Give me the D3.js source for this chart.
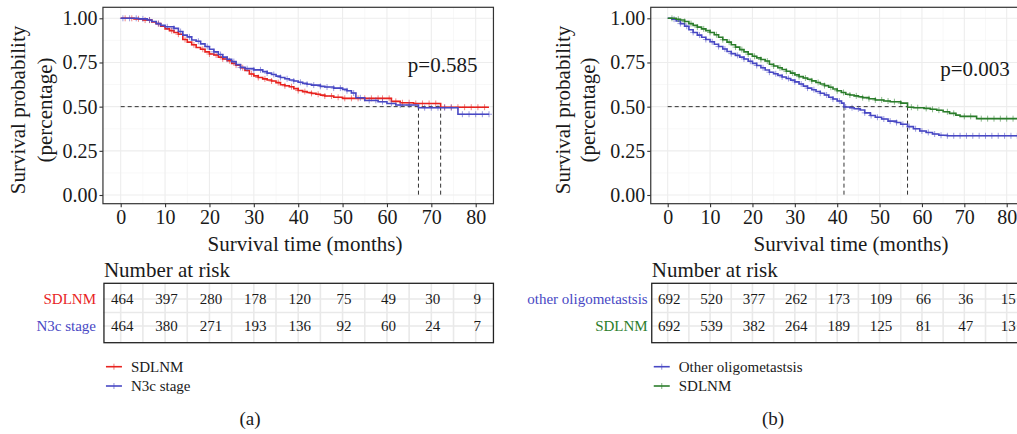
<!DOCTYPE html>
<html>
<head>
<meta charset="utf-8">
<script src="https://cdn.jsdelivr.net/npm/d3@7"></script>
<style>
body { margin: 0; background: #fff; }
text { font-family: "Liberation Serif", "Times New Roman", serif; fill: #1a1a1a; }
</style>
</head>
<body>
<svg id="chart" width="1017" height="434"></svg>
<script>
// ---- data ----
var monthTicks = [0, 10, 20, 30, 40, 50, 60, 70, 80];
var survTicks = [0, 0.25, 0.5, 0.75, 1];

// panel (a)
var aRedTime = [0,3,5,7,8,9,10,11,12,13,14,15,16,17,18,19,20,21,22,23,24,25,26,27,28,29,30,31,32,33,34,35,36,37,38,39,40,41,42,43,44,45,46,48,50,61,63,66,72.1];
var aRedSurv = [1,0.997,0.99,0.98,0.97,0.955,0.94,0.93,0.92,0.91,0.88,0.865,0.85,0.835,0.825,0.81,0.798,0.792,0.78,0.77,0.76,0.745,0.735,0.72,0.705,0.685,0.674,0.665,0.657,0.651,0.645,0.636,0.624,0.618,0.613,0.602,0.591,0.585,0.58,0.575,0.57,0.565,0.56,0.553,0.547,0.53,0.522,0.518,0.497];
var aRedCensor = [1,2.5,4,5.5,6.5,8.5,11.5,13,14.5,16.5,18.5,20,21.5,23,24.5,26,27.5,29.5,31,32.5,34,35.5,37,38.5,40,41.5,43,44.5,46,47.5,49,50.5,52,53.5,55,56.5,58,59,60.5,62,63.5,65,66.5,68,69.5,71,73,74.5,76,77.5,79,80.5,82];
var aBlueTime = [0,4,6,7,8,9,10,12,13,14,15,16,17,18,19,20,21,22,23,24,25,26,27,28,30,32,33,34,35,36,37,38,39,40,41,42,43,45,46,48,50,51,52,53,55,58,60,62,67.1,76];
var aBlueSurv = [1,0.997,0.99,0.982,0.97,0.96,0.952,0.943,0.925,0.905,0.895,0.877,0.87,0.855,0.84,0.825,0.81,0.795,0.78,0.768,0.755,0.738,0.722,0.715,0.708,0.698,0.69,0.682,0.673,0.665,0.658,0.651,0.645,0.638,0.632,0.627,0.622,0.615,0.611,0.605,0.598,0.59,0.577,0.55,0.535,0.528,0.518,0.509,0.494,0.457];
var aBlueCensor = [0.5,2,3.5,5,6.5,8.5,10.5,12,13.5,15.5,17.5,19.5,21,22.5,24,25.5,27,28.5,30,31.5,33,34.5,36,37.5,39,40.5,42,43.5,45,46.5,48,49.5,51,52.5,54,56,57.5,59,61,63,65,68.5,70,71.5,73,74.5,77,78.5,80,81.5,83];
var aMedian = [67.1, 72.1];
var aRiskRed = [464, 397, 280, 178, 120, 75, 49, 30, 9];
var aRiskBlue = [464, 380, 271, 193, 136, 92, 60, 24, 7];

// panel (b)
var bOtherTime = [0,1,2,3,4,5,6,7,8,9,10,11,12,13,14,15,16,17,18,19,20,21,22,23,24,25,26,27,28,29,30,31,32,33,34,35,36,37,38,39,40,41,41.6,43,44,45.4,46.5,47.8,49,50.5,52,54,55,56.6,58,59.5,61,62.5,64,66];
var bOtherSurv = [1,0.995,0.985,0.97,0.955,0.935,0.92,0.905,0.893,0.88,0.867,0.853,0.84,0.826,0.812,0.8,0.79,0.78,0.77,0.757,0.745,0.733,0.72,0.707,0.695,0.686,0.677,0.668,0.659,0.65,0.64,0.628,0.616,0.605,0.596,0.586,0.576,0.566,0.553,0.543,0.532,0.52,0.498,0.494,0.488,0.481,0.465,0.45,0.44,0.43,0.418,0.41,0.4,0.387,0.375,0.362,0.354,0.345,0.338,0.335];
var bOtherCensor = [1.5,3,4.5,6,7.5,9,10.5,12,13.5,15,16.5,18,19.5,21,22.5,24,25.5,27,28.5,30,31.5,33,34.5,36,37.5,39,40.5,42,43.5,45,46.5,48,49.5,51,52.5,54,55.5,57,58.5,60,61.5,63,64.5,66,67.5,69,70.5,72,73.5,75,76.5,78,79.5,81,82.5];
var bSdlnmTime = [0,2,3,4,5,6,7,8,9,10,11,12,13,14,15,16,17,18,19,20,21,22,23,24,25,26,27,28,29,30,31,32,33,34,35,36,37,38,39,40,41,42,43,44,45,46,47.5,49,51,52.5,55,56.6,58,60.5,62,63.5,65,66.5,68,69,72.9];
var bSdlnmSurv = [1,0.995,0.99,0.982,0.97,0.96,0.95,0.94,0.93,0.92,0.907,0.893,0.879,0.865,0.85,0.837,0.823,0.81,0.797,0.785,0.776,0.767,0.758,0.74,0.73,0.72,0.71,0.7,0.69,0.68,0.67,0.662,0.655,0.646,0.637,0.628,0.619,0.61,0.6,0.59,0.58,0.57,0.566,0.561,0.556,0.551,0.545,0.538,0.532,0.528,0.52,0.497,0.494,0.49,0.485,0.48,0.471,0.462,0.452,0.445,0.432];
var bSdlnmCensor = [1,2.5,4,5.5,7,8.5,10,11.5,13,14.5,16,17.5,19,20.5,22,23.5,25,26.5,28,29.5,31,32.5,34,35.5,37,38.5,40,41.5,43,44.5,46,47.5,49,50.5,52,53.5,55,57.5,59,61,62.5,64,66,67.5,70,71.5,74,75.5,77,78.5,80,81.5,83];
var bMedian = [41.6, 56.6];
var bRiskOther = [692, 520, 377, 262, 173, 109, 66, 36, 15];
var bRiskSdlnm = [692, 539, 382, 264, 189, 125, 81, 47, 13];

var RED = '#e8231f', BLUE = '#4848c4', GREEN = '#2b7d2b';

var svg = d3.select('#chart');

function drawPanel(p) {
    var x = d3.scaleLinear().domain([0, 80]).range(p.xRange);
    var y = d3.scaleLinear().domain([0, 1]).range([195, 18.3]);
    var left = x(-4), right = x(84);
    var top = 7.3, bottom = 203.7;

    var g = svg.append('g');

    // panel grid
    var minorX = [5, 15, 25, 35, 45, 55, 65, 75];
    var minorY = [0.125, 0.375, 0.625, 0.875];
    g.selectAll('.mgx').data(minorX).enter().append('line')
        .attr('x1', d => x(d)).attr('x2', d => x(d))
        .attr('y1', top).attr('y2', bottom)
        .attr('stroke', '#f6f6f6').attr('stroke-width', 0.8);
    g.selectAll('.mgy').data(minorY).enter().append('line')
        .attr('x1', left).attr('x2', right)
        .attr('y1', d => y(d)).attr('y2', d => y(d))
        .attr('stroke', '#f6f6f6').attr('stroke-width', 0.8);
    g.selectAll('.gx').data(monthTicks).enter().append('line')
        .attr('x1', d => x(d)).attr('x2', d => x(d))
        .attr('y1', top).attr('y2', bottom)
        .attr('stroke', '#ededed').attr('stroke-width', 1.1);
    g.selectAll('.gy').data(survTicks).enter().append('line')
        .attr('x1', left).attr('x2', right)
        .attr('y1', d => y(d)).attr('y2', d => y(d))
        .attr('stroke', '#ededed').attr('stroke-width', 1.1);

    // median lines
    var dash = '4,3';
    g.append('line')
        .attr('x1', x(0)).attr('x2', x(d3.max(p.median)))
        .attr('y1', y(0.5)).attr('y2', y(0.5))
        .attr('stroke', '#333').attr('stroke-width', 1).attr('stroke-dasharray', dash);
    g.selectAll('.med').data(p.median).enter().append('line')
        .attr('x1', d => x(d)).attr('x2', d => x(d))
        .attr('y1', y(0.5)).attr('y2', y(0))
        .attr('stroke', '#333').attr('stroke-width', 1).attr('stroke-dasharray', dash);

    // curves
    var line = d3.line().curve(d3.curveStepAfter).x(d => x(d[0])).y(d => y(d[1]));
    p.series.forEach(s => {
        var pts = s.time.map((t, i) => [t, s.surv[i]]);
        pts.push([s.end, s.surv[s.surv.length - 1]]);
        g.append('path')
            .attr('d', line(pts))
            .attr('fill', 'none')
            .attr('stroke', s.color)
            .attr('stroke-width', 1.6);
        var bis = d3.bisector(d => d).right;
        s.censor.forEach(c => {
            var v = s.surv[Math.max(0, bis(s.time, c) - 1)];
            g.append('path')
                .attr('d', 'M' + (x(c) - 3) + ',' + y(v) + 'h6M' + x(c) + ',' + (y(v) - 3) + 'v6')
                .attr('stroke', s.color)
                .attr('stroke-opacity', 0.55)
                .attr('stroke-width', 1);
        });
    });

    // border
    g.append('rect')
        .attr('x', left).attr('y', top)
        .attr('width', right - left).attr('height', bottom - top)
        .attr('fill', 'none').attr('stroke', '#333').attr('stroke-width', 1.2);

    // axes
    var xAxis = d3.axisBottom(x).tickValues(monthTicks).tickSize(3.5).tickPadding(3);
    var yAxis = d3.axisLeft(y).tickValues(survTicks).tickFormat(d3.format('.2f')).tickSize(3.5).tickPadding(2);
    var gx = g.append('g').attr('transform', 'translate(0,' + bottom + ')').call(xAxis);
    var gy = g.append('g').attr('transform', 'translate(' + left + ',0)').call(yAxis);
    [gx, gy].forEach(a => {
        a.select('.domain').remove();
        a.selectAll('line').attr('stroke', '#333').attr('stroke-width', 1.1);
        a.selectAll('text').attr('font-size', 20).attr('fill', '#1a1a1a')
            .style('font-family', '"Liberation Serif", serif');
    });

    // axis titles
    g.append('text')
        .attr('x', p.xTitleX).attr('y', 251)
        .attr('text-anchor', 'middle').attr('font-size', 21)
        .text('Survival time (months)');
    g.append('text')
        .attr('transform', 'translate(' + p.yTitleX[0] + ',110) rotate(-90)')
        .attr('text-anchor', 'middle').attr('font-size', 21)
        .text('Survival probability');
    g.append('text')
        .attr('transform', 'translate(' + p.yTitleX[1] + ',110) rotate(-90)')
        .attr('text-anchor', 'middle').attr('font-size', 21)
        .text('(percentage)');

    // p value
    g.append('text')
        .attr('x', x(p.pPos[0])).attr('y', y(p.pPos[1]))
        .attr('font-size', 21)
        .text(p.pText);

    // risk table
    var tTop = 283.3, tBottom = 342.7;
    g.append('text')
        .attr('x', left + 1).attr('y', 277.3)
        .attr('font-size', 21)
        .text('Number at risk');
    var allX = monthTicks.concat(minorX);
    g.selectAll('.tgx').data(allX).enter().append('line')
        .attr('x1', d => x(d)).attr('x2', d => x(d))
        .attr('y1', tTop).attr('y2', tBottom)
        .attr('stroke', '#e9e9e9').attr('stroke-width', 1.6);
    g.selectAll('.tgy').data([299, 312.5, 326]).enter().append('line')
        .attr('x1', left).attr('x2', right)
        .attr('y1', d => d).attr('y2', d => d)
        .attr('stroke', '#e9e9e9').attr('stroke-width', 1.6);
    p.series.forEach((s, i) => {
        var rowY = [304, 331][i];
        g.append('text')
            .attr('x', p.rowLabelX).attr('y', rowY)
            .attr('text-anchor', 'end').attr('font-size', 15)
            .style('fill', s.color)
            .text(s.rowLabel);
        g.selectAll('.risk' + i).data(s.risk).enter().append('text')
            .attr('x', (d, j) => x(monthTicks[j]) + 1.5)
            .attr('y', rowY)
            .attr('text-anchor', 'middle').attr('font-size', 15)
            .text(d => d);
    });
    g.append('rect')
        .attr('x', left + 1).attr('y', tTop)
        .attr('width', right - left - 1).attr('height', tBottom - tTop)
        .attr('fill', 'none').attr('stroke', '#222').attr('stroke-width', 1.3);

    // legend
    p.legendOrder.forEach((s, i) => {
        var ly = [366.7, 386][i];
        var lx = left + 3;
        g.append('line')
            .attr('x1', lx).attr('x2', lx + 16)
            .attr('y1', ly).attr('y2', ly)
            .attr('stroke', s.color).attr('stroke-width', 1.6);
        g.append('line')
            .attr('x1', lx + 8).attr('x2', lx + 8)
            .attr('y1', ly - 3).attr('y2', ly + 3)
            .attr('stroke', s.color).attr('stroke-opacity', 0.6).attr('stroke-width', 1);
        g.append('text')
            .attr('x', lx + 25).attr('y', ly + 5)
            .attr('font-size', 15)
            .text(s.legend);
    });

    // caption
    g.append('text')
        .attr('x', p.captionX).attr('y', 425)
        .attr('text-anchor', 'middle').attr('font-size', 19)
        .text(p.caption);
}

var aRed = { time: aRedTime, surv: aRedSurv, censor: aRedCensor, end: 83, color: RED,
    risk: aRiskRed, rowLabel: 'SDLNM', legend: 'SDLNM' };
var aBlue = { time: aBlueTime, surv: aBlueSurv, censor: aBlueCensor, end: 83, color: BLUE,
    risk: aRiskBlue, rowLabel: 'N3c stage', legend: 'N3c stage' };
drawPanel({
    xRange: [120.7, 475.7],
    series: [aRed, aBlue],
    legendOrder: [aRed, aBlue],
    median: aMedian,
    pText: 'p=0.585', pPos: [64.7, 0.696],
    xTitleX: 305, yTitleX: [25, 52],
    rowLabelX: 96,
    caption: '(a)', captionX: 250
});

var bOther = { time: bOtherTime, surv: bOtherSurv, censor: bOtherCensor, end: 86, color: BLUE,
    risk: bRiskOther, rowLabel: 'other oligometastsis', legend: 'Other oligometastsis' };
var bSdlnm = { time: bSdlnmTime, surv: bSdlnmSurv, censor: bSdlnmCensor, end: 86, color: GREEN,
    risk: bRiskSdlnm, rowLabel: 'SDLNM', legend: 'SDLNM' };
drawPanel({
    xRange: [667.7, 1006.7],
    series: [bOther, bSdlnm],
    legendOrder: [bOther, bSdlnm],
    median: bMedian,
    pText: 'p=0.003', pPos: [64.3, 0.673],
    xTitleX: 851, yTitleX: [570, 595],
    rowLabelX: 647.7,
    caption: '(b)', captionX: 773
});
</script>
</body>
</html>
